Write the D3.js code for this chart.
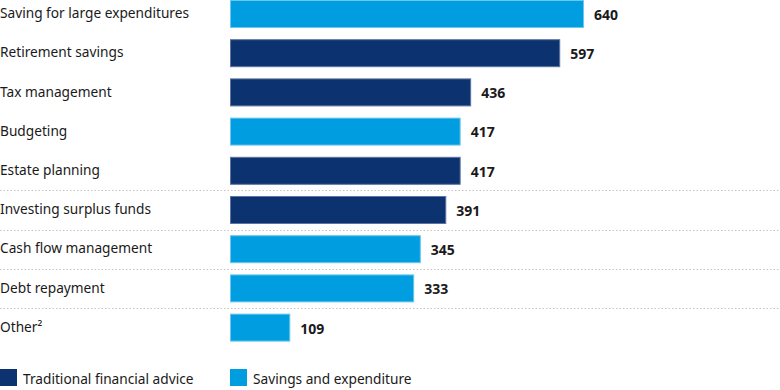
<title>Advice topics</title>
<body style="margin:0"></body>
<style>
  text { font-family: "Noto Sans", sans-serif; fill: #1a1a1a; }
  .val { font-weight: bold; font-size: 14px; }
  .cat { font-size: 13.7px; }
</style>
<script src="https://d3js.org/d3.v7.min.js"></script>
<script>
const categories = ['Saving for large expenditures', 'Retirement savings', 'Tax management',
  'Budgeting', 'Estate planning', 'Investing surplus funds', 'Cash flow management',
  'Debt repayment', 'Other\u00b2'];
const values = [640, 597, 436, 417, 417, 391, 345, 333, 109];
const groups = ['savings', 'traditional', 'traditional', 'savings', 'traditional',
  'traditional', 'savings', 'savings', 'savings'];
const seriesNames = ['Traditional financial advice', 'Savings and expenditure'];
const seriesKeys = ['traditional', 'savings'];

const rows = categories.map((c, i) => ({cat: c, val: values[i], grp: groups[i]}));

const svg = d3.select('body').append('svg')
    .attr('width', 780)
    .attr('height', 390)

const color = d3.scaleOrdinal().domain(seriesKeys).range(['#0c3270', '#009ee0'])
const stroke = d3.scaleOrdinal().domain(seriesKeys).range(['#5b74a1', '#6cc7ee'])

const x = d3.scaleLinear().domain([0, 640]).range([230, 584])
const y = d3.scaleBand().domain(categories).range([0, 341.6]).paddingInner(0.286)

// dotted separators (only shown in the lower part of the list)
const gap = y.step() - y.bandwidth()
svg.selectAll('line.sep')
    .data(categories.slice(5))
  .enter().append('line')
    .attr('x1', 0).attr('x2', 780)
    .attr('y1', d => Math.round(y(d) - gap / 2) + 0.5)
    .attr('y2', d => Math.round(y(d) - gap / 2) + 0.5)
    .attr('stroke', '#c4c4c4')
    .attr('stroke-dasharray', '1.5,2')

const g = svg.selectAll('g.row')
    .data(rows)
  .enter().append('g')

g.append('rect')
    .attr('x', x(0) + 0.5)
    .attr('y', d => y(d.cat) + 0.5)
    .attr('width', d => x(d.val) - x(0) - 1)
    .attr('height', y.bandwidth() - 1)
    .attr('fill', d => color(d.grp))
    .attr('stroke', d => stroke(d.grp))

g.append('text')
    .attr('class', 'cat')
    .attr('x', 0)
    .attr('y', d => y(d.cat) + y.bandwidth() / 2 - 0.5)
    .attr('dy', '0.35em')
    .text(d => d.cat)

g.append('text')
    .attr('class', 'val')
    .attr('x', d => x(d.val) + 10)
    .attr('y', d => y(d.cat) + y.bandwidth() / 2 + 1)
    .attr('dy', '0.35em')
    .text(d => d.val)

// legend
const lg = svg.selectAll('g.legend')
    .data(seriesKeys)
  .enter().append('g')
    .attr('transform', (d, i) => `translate(${i ? 230 : 0},369)`)

lg.append('rect')
    .attr('width', 17).attr('height', 17)
    .attr('fill', d => color(d))

lg.append('text')
    .attr('class', 'cat')
    .attr('x', 23)
    .attr('y', 10)
    .attr('dy', '0.35em')
    .text((d, i) => seriesNames[i])
</script>
